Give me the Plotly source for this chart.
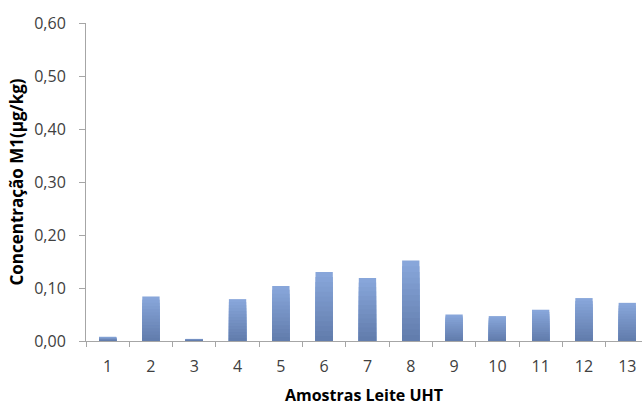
import plotly.graph_objects as go

categories = ["1", "2", "3", "4", "5", "6", "7", "8", "9", "10", "11", "12", "13"]
values = [0.008, 0.084, 0.004, 0.079, 0.104, 0.130, 0.119, 0.152, 0.050, 0.047, 0.059, 0.081, 0.072]
y_ticks = [0.0, 0.1, 0.2, 0.3, 0.4, 0.5, 0.6]
y_tick_labels = ["0,00", "0,10", "0,20", "0,30", "0,40", "0,50", "0,60"]

top_rgb = (136, 166, 218)
bot_rgb = (98, 125, 173)
N = 14

fig = go.Figure()
for k in range(N):
    t = k / (N - 1)
    c = tuple(round(top_rgb[i] + (bot_rgb[i] - top_rgb[i]) * t) for i in range(3))
    frac = 1 - k / N
    fig.add_trace(go.Bar(
        x=categories,
        y=[v * frac for v in values],
        marker=dict(color="rgb(%d,%d,%d)" % c, line=dict(width=0)),
        width=0.4,
        showlegend=False,
        hoverinfo="skip" if k else None,
    ))

font_family = "Open Sans, Liberation Sans, sans-serif"
fig.update_layout(
    width=642, height=406,
    margin=dict(l=86, r=0, t=23, b=65),
    paper_bgcolor="white", plot_bgcolor="white",
    barmode="overlay",
    bargap=0.6,
    font=dict(family=font_family, size=16, color="#404040"),
    xaxis=dict(
        range=[-0.5, 12.34],
        automargin=False,
        showline=True, linecolor="#A6A6A6", linewidth=1,
        ticks="outside", ticklen=5, tickcolor="#A6A6A6",
        tickson="boundaries",
        ticklabelstandoff=11,
        showgrid=False, zeroline=False,
        tickfont=dict(size=16, color="#404040"),
        title=dict(text="<b>Amostras Leite UHT</b>", font=dict(size=16, color="#000000"), standoff=15),
    ),
    yaxis=dict(
        range=[0, 0.6],
        automargin=False,
        tickvals=y_ticks, ticktext=y_tick_labels,
        showline=True, linecolor="#A6A6A6", linewidth=1,
        ticks="outside", ticklen=6, tickcolor="#A6A6A6",
        ticklabelstandoff=10,
        showgrid=False, zeroline=False,
        tickfont=dict(size=16, color="#404040"),
        title=dict(text="<b>Concentração M1(µg/kg)</b>", font=dict(size=17, color="#000000"), standoff=6),
    ),
)

fig.write_html("out.html", config={"displayModeBar": False},
               post_script="document.body.style.margin='0';")
